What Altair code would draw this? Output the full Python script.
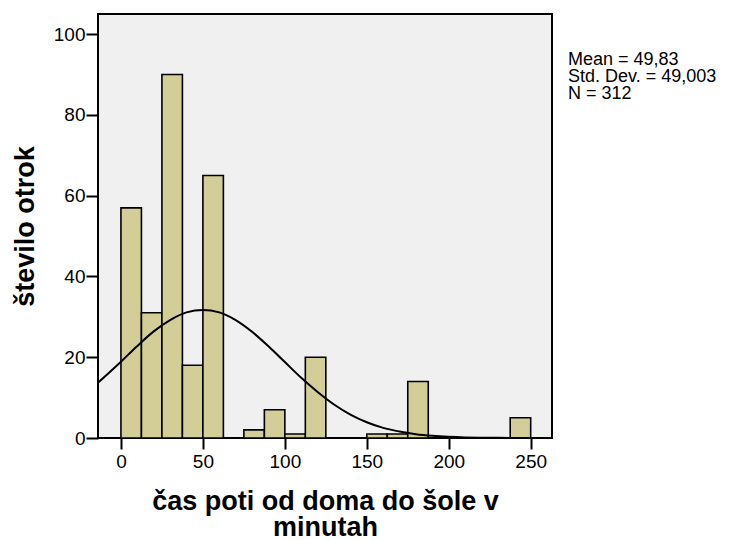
import altair as alt
import pandas as pd

# Histogram bins (minutes) and counts
bin_start = [0, 12.5, 25, 37.5, 50, 75, 87.5, 100, 112.5, 150, 162.5, 175, 237.5]
bin_end = [12.5, 25, 37.5, 50, 62.5, 87.5, 100, 112.5, 125, 162.5, 175, 187.5, 250]
counts = [57, 31, 90, 18, 65, 2, 7, 1, 20, 1, 1, 14, 5]

# Normal curve points
curve_x = [-14, 0, 10, 20, 30, 40, 50, 60, 70, 80, 90, 100, 110, 120, 130, 140,
           150, 160, 170, 180, 190, 200, 210, 220, 230, 240, 250, 263]
curve_y = [13.7, 18.9, 22.8, 26.4, 29.2, 31.1, 31.7, 31.1, 29.2, 26.3, 22.7, 18.8,
           14.9, 11.4, 8.3, 5.8, 3.9, 2.5, 1.6, 0.93, 0.53, 0.29, 0.15, 0.08,
           0.04, 0.02, 0.01, 0.0]

stats_lines = ["Mean = 49,83", "Std. Dev. = 49,003", "N = 312"]
x_ticks = [0, 50, 100, 150, 200, 250]
y_ticks = [0, 20, 40, 60, 80, 100]

bars_df = pd.DataFrame({"start": bin_start, "end": bin_end, "count": counts})
curve_df = pd.DataFrame({"x": curve_x, "y": curve_y})

FONT = "Liberation Sans"

x_scale = alt.Scale(domain=[-14, 263], nice=False, zero=False)
y_scale = alt.Scale(domain=[0, 105], nice=False)

x_axis = alt.Axis(
    values=x_ticks, grid=False, domain=False, tickSize=11, tickWidth=2,
    tickColor="black", labelFontSize=19, labelFont=FONT, labelColor="black",
    labelPadding=3,
    title=["čas poti od doma do šole v", "minutah"],
    titleFont=FONT, titleFontSize=27, titleFontWeight="bold", titleColor="black",
    titleLineHeight=26, titleX=227, titleY=71, titleAlign="center",
    titleBaseline="alphabetic",
)
y_axis = alt.Axis(
    values=y_ticks, grid=False, domain=False, tickSize=12, tickWidth=2,
    tickColor="black", labelFontSize=19, labelFont=FONT, labelColor="black",
    labelPadding=1,
    title="število otrok", titleFont=FONT, titleFontSize=27,
    titleFontWeight="bold", titleColor="black", titleX=-65, titleY=212,
    titleAlign="center", titleBaseline="alphabetic", titleAngle=270,
)

bars = alt.Chart(bars_df).mark_rect(
    fill="#D3CE97", stroke="black", strokeWidth=1.6
).encode(
    x=alt.X("start:Q", scale=x_scale, axis=x_axis),
    x2="end:Q",
    y=alt.Y("count:Q", scale=y_scale, axis=y_axis),
    y2=alt.datum(0),
)

curve = alt.Chart(curve_df).mark_line(
    color="black", strokeWidth=2, interpolate="monotone", clip=True
).encode(
    x=alt.X("x:Q", scale=x_scale),
    y=alt.Y("y:Q", scale=y_scale),
)

stats = alt.Chart(pd.DataFrame({"a": [0]})).mark_text(
    text=stats_lines, align="left", baseline="alphabetic", fontSize=18,
    font=FONT, color="black", lineHeight=17,
).encode(x=alt.value(470), y=alt.value(51))

chart = alt.layer(bars, curve, stats).properties(
    width=454, height=424,
    background="white",
    autosize=alt.AutoSizeParams(type="none"),
    padding={"left": 90, "top": 6, "right": 169, "bottom": 100},
).configure_view(
    fill="#F0F0F0", stroke="black", strokeWidth=2
)

chart.save("out.html", embed_options={"renderer": "svg", "actions": False})
